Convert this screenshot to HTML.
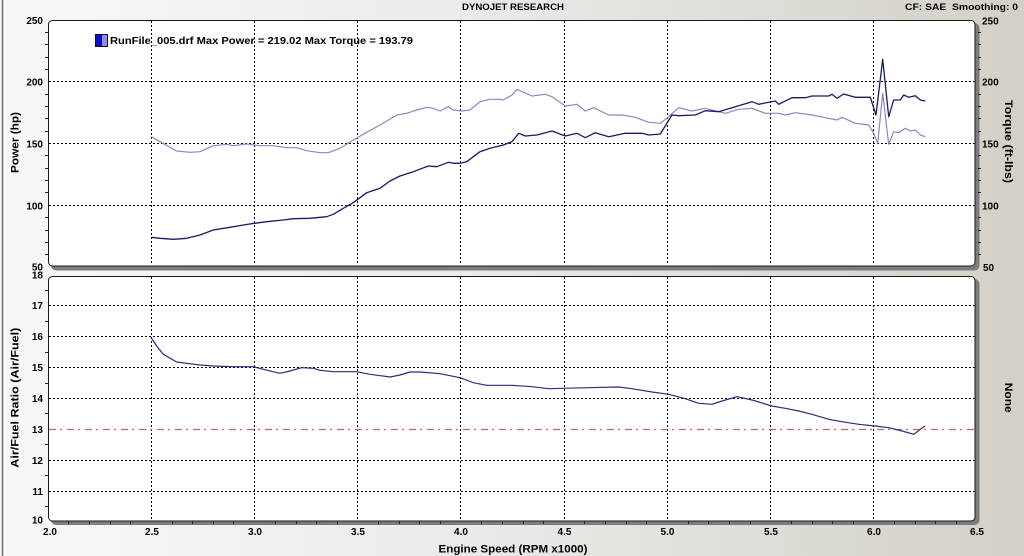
<!DOCTYPE html>
<html><head><meta charset="utf-8"><style>
html,body{margin:0;padding:0;width:1024px;height:556px;overflow:hidden}
svg{display:block}
text{font-family:"Liberation Sans",Arial,sans-serif;font-weight:bold;fill:#000}
</style></head><body>
<svg width="1024" height="556" viewBox="0 0 1024 556" xmlns="http://www.w3.org/2000/svg">
<defs>
<linearGradient id="bg" x1="0" y1="0" x2="1" y2="0">
<stop offset="0" stop-color="#f8f8f7"/>
<stop offset="0.45" stop-color="#ecebe8"/>
<stop offset="1" stop-color="#d4d0c8"/>
</linearGradient>
</defs>
<rect x="0" y="0" width="1024" height="556" fill="url(#bg)"/>
<line x1="2.5" y1="0" x2="2.5" y2="556" stroke="#6a6a6a" stroke-width="1.5"/>

<!-- header -->
<text x="462" y="10" font-size="9.5" textLength="102" lengthAdjust="spacingAndGlyphs">DYNOJET RESEARCH</text>
<text x="905" y="10" font-size="9.5" textLength="113" lengthAdjust="spacingAndGlyphs">CF: SAE&#160;&#160;Smoothing: 0</text>

<!-- top panel frame -->
<rect x="51" y="23" width="928.5" height="247.5" rx="5" fill="#7c7c7c"/>
<rect x="48.5" y="20.5" width="926.5" height="245.5" rx="4" fill="#fff" stroke="#1a1a1a" stroke-width="1"/>
<!-- bottom panel frame -->
<rect x="51" y="279" width="928.5" height="246" rx="5" fill="#7c7c7c"/>
<rect x="48.5" y="276.5" width="926.5" height="244.5" rx="4" fill="#fff" stroke="#1a1a1a" stroke-width="1"/>

<!-- grid -->
<g stroke="#000" stroke-width="1" stroke-dasharray="2 2" fill="none" shape-rendering="crispEdges">
<line x1="49" y1="81.5" x2="975" y2="81.5"/>
<line x1="49" y1="143.5" x2="975" y2="143.5"/>
<line x1="49" y1="205.5" x2="975" y2="205.5"/>
<line x1="151.5" y1="21" x2="151.5" y2="265"/>
<line x1="254.5" y1="21" x2="254.5" y2="265"/>
<line x1="357.5" y1="21" x2="357.5" y2="265"/>
<line x1="460.5" y1="21" x2="460.5" y2="265"/>
<line x1="564.5" y1="21" x2="564.5" y2="265"/>
<line x1="667.5" y1="21" x2="667.5" y2="265"/>
<line x1="770.5" y1="21" x2="770.5" y2="265"/>
<line x1="873.5" y1="21" x2="873.5" y2="265"/>
<line x1="49" y1="305.5" x2="975" y2="305.5"/>
<line x1="49" y1="336.5" x2="975" y2="336.5"/>
<line x1="49" y1="367.5" x2="975" y2="367.5"/>
<line x1="49" y1="398.5" x2="975" y2="398.5"/>
<line x1="49" y1="460.5" x2="975" y2="460.5"/>
<line x1="49" y1="491.5" x2="975" y2="491.5"/>
<line x1="151.5" y1="277" x2="151.5" y2="520"/>
<line x1="254.5" y1="277" x2="254.5" y2="520"/>
<line x1="357.5" y1="277" x2="357.5" y2="520"/>
<line x1="460.5" y1="277" x2="460.5" y2="520"/>
<line x1="564.5" y1="277" x2="564.5" y2="520"/>
<line x1="667.5" y1="277" x2="667.5" y2="520"/>
<line x1="770.5" y1="277" x2="770.5" y2="520"/>
<line x1="873.5" y1="277" x2="873.5" y2="520"/>
</g>
<line x1="49" y1="429.5" x2="975" y2="429.5" stroke="#c06868" stroke-width="1.3" stroke-dasharray="7 4 2 5"/>

<!-- ticks -->
<g stroke="#222" stroke-width="1" shape-rendering="crispEdges">
<path d="M45 32.5H48 M45 44.5H48 M45 57.5H48 M45 69.5H48 M45 94.5H48 M45 106.5H48 M45 118.5H48 M45 131.5H48 M45 155.5H48 M45 168.5H48 M45 180.5H48 M45 192.5H48 M45 217.5H48 M45 230.5H48 M45 242.5H48 M45 254.5H48"/>
<path d="M978 32.5H981 M978 44.5H981 M978 57.5H981 M978 69.5H981 M978 94.5H981 M978 106.5H981 M978 118.5H981 M978 131.5H981 M978 155.5H981 M978 168.5H981 M978 180.5H981 M978 192.5H981 M978 217.5H981 M978 230.5H981 M978 242.5H981 M978 254.5H981"/>
<path d="M45 290.5H48 M45 321.5H48 M45 352.5H48 M45 383.5H48 M45 413.5H48 M45 444.5H48 M45 475.5H48 M45 506.5H48"/>
<path d="M68.5 521V524 M89.5 521V524 M110.5 521V524 M130.5 521V524 M172.5 521V524 M192.5 521V524 M213.5 521V524 M233.5 521V524 M275.5 521V524 M296.5 521V524 M316.5 521V524 M337.5 521V524 M378.5 521V524 M399.5 521V524 M419.5 521V524 M440.5 521V524 M481.5 521V524 M502.5 521V524 M523.5 521V524 M543.5 521V524 M584.5 521V524 M605.5 521V524 M626.5 521V524 M646.5 521V524 M688.5 521V524 M708.5 521V524 M729.5 521V524 M750.5 521V524 M791.5 521V524 M812.5 521V524 M832.5 521V524 M853.5 521V524 M894.5 521V524 M915.5 521V524 M935.5 521V524 M956.5 521V524"/>
</g>

<!-- series -->
<polyline fill="none" stroke="#8a88c2" stroke-width="1.2" stroke-linejoin="round" points="151.3,136.7 160,141.7 176.7,151 190,152.3 200,151.7 213.3,145.7 226.7,144.3 233.3,145.7 246.7,144 260,145.7 273.3,145.7 286.7,147.7 296.7,147.7 306.7,150.7 320,152.7 328.3,152.7 340,148.3 353.3,140 366.7,132.3 380,125 396.7,115 406.7,113.3 416.7,110 426.7,107.3 433.3,108.3 440,111 448.3,106.7 453.3,110 461.7,111 470,110 480,101.7 490,99.3 500,99.3 503.3,100 512,95 517,89.3 532,96 545.3,94.3 552,96.7 565.3,106 577,104.3 585.3,111 593.7,107.7 608.7,115 622,115 635.3,117.3 648.7,122.3 660.3,123.3 668.7,116.7 678.7,107.7 692,111 705.3,108.3 725.3,113.3 738.7,109.3 752,108.3 765.3,113.3 778.7,113.3 785.3,115 795.3,112.7 812,115 828.7,118.3 837,120 842,117.3 855.3,123.3 868.7,125 873.7,133.3 877.7,143.3 882.7,93.3 888.7,144.3 893.7,131.7 898.7,132.7 905.3,128.3 910.3,131 915.3,130 920.3,135 925.3,136.7"/>
<polyline fill="none" stroke="#1c1a66" stroke-width="1.3" stroke-linejoin="round" points="151.3,237.3 160,238.3 173.3,239.3 186.7,238.3 200,235 213.3,230 230,227.3 243.3,225 254.3,223.3 266.7,221.7 283.3,220 293.3,218.7 310,218.3 326.7,216.7 333.3,214.3 343.3,208.3 353.3,202.7 366.7,192.7 380,188.3 390,181 400,176 413.3,171.7 428.3,166 436.7,166.7 448.3,162.3 453.3,163.3 460,163.3 466.7,161.7 480,151.7 490,148.3 503.3,145 512,141.7 518.7,133.3 525.3,136 537,135 552,131 565.3,136 577,133.3 585.3,137.7 595.3,132.7 608.7,136.7 625.3,133.3 642,133.3 648.7,135 660.3,134 672,115 678.7,115.7 695.3,115 705.3,110.7 718.7,111.7 735.3,106.7 752,101.7 758.7,104.3 775.3,101 778.7,104.3 792,97.7 805.3,97.7 812,96 828.7,96 832,94.3 837,98.3 843.7,94 855.3,97.3 870.3,97.3 876,115 882.7,59.3 888.7,116.7 893.7,100 900.3,100 903.7,95 908.7,97.3 915.3,95.7 920.3,100 925.3,101"/>
<polyline fill="none" stroke="#2e2c7c" stroke-width="1.2" stroke-linejoin="round" points="150.7,337 156.7,346 163.3,354.3 176.7,362 186.7,363.3 200,365 213.3,366 233.3,366.7 253.3,366.7 263.3,369.3 280,373.3 290,371 301.7,367.7 313.3,368.3 320,370.3 333.3,371.7 356.7,371.7 370,374.3 390,377 400,375 410,372 420,372 440,373.7 460,377.7 473.3,382.7 486.7,385.3 512,385.3 532,386.7 548.7,388.7 562,388.3 588.7,387.7 618.7,387 632,388.7 652,392 668.7,394.3 685.3,398.7 698.7,403.3 712,404.3 722,401 737,396.7 752,400 772,406 785.3,408.3 798.7,411 812,414.3 828.7,419.3 842,421.7 858.7,424.3 875.3,426 888.7,427.7 902,431 913.7,434.3 920.3,429.3 925.3,426"/>

<!-- legend -->
<rect x="95.5" y="34.5" width="12" height="12" fill="#8c8cf0" stroke="#111" stroke-width="1"/>
<rect x="96" y="35" width="6" height="11" fill="#0c0cd0"/>
<text x="110" y="44" font-size="10" textLength="303" lengthAdjust="spacingAndGlyphs">RunFile_005.drf Max Power = 219.02 Max Torque = 193.79</text>

<!-- left y labels -->
<g font-size="10" text-anchor="end">
<text x="43" y="24">250</text>
<text x="43" y="85.5">200</text>
<text x="43" y="147.5">150</text>
<text x="43" y="209.5">100</text>
<text x="43" y="270.5">50</text>
<text x="43" y="278.5">18</text>
<text x="43" y="309">17</text>
<text x="43" y="340">16</text>
<text x="43" y="371">15</text>
<text x="43" y="402">14</text>
<text x="43" y="433">13</text>
<text x="43" y="464">12</text>
<text x="43" y="495">11</text>
<text x="43" y="523.5">10</text>
</g>
<!-- right y labels -->
<g font-size="10">
<text x="982" y="24.5">250</text>
<text x="982" y="85.5">200</text>
<text x="982" y="147.5">150</text>
<text x="982" y="209.5">100</text>
<text x="983" y="271">50</text>
</g>
<!-- x labels -->
<g font-size="10" text-anchor="middle">
<text x="50" y="535">2.0</text>
<text x="152" y="535">2.5</text>
<text x="255" y="535">3.0</text>
<text x="358" y="535">3.5</text>
<text x="461" y="535">4.0</text>
<text x="564.5" y="535">4.5</text>
<text x="667.5" y="535">5.0</text>
<text x="771" y="535">5.5</text>
<text x="874" y="535">6.0</text>
<text x="977" y="535">6.5</text>
</g>
<text x="438.5" y="552.5" font-size="11" textLength="149" lengthAdjust="spacingAndGlyphs">Engine Speed (RPM x1000)</text>

<!-- axis titles -->
<text transform="translate(18.5,142.5) rotate(-90)" font-size="11" text-anchor="middle" textLength="61" lengthAdjust="spacingAndGlyphs">Power (hp)</text>
<text transform="translate(18.5,397.7) rotate(-90)" font-size="11" text-anchor="middle" textLength="140" lengthAdjust="spacingAndGlyphs">Air/Fuel Ratio (Air/Fuel)</text>
<text transform="translate(1005,141.5) rotate(90)" font-size="11" text-anchor="middle" textLength="83" lengthAdjust="spacingAndGlyphs">Torque (ft-lbs)</text>
<text transform="translate(1005,397.7) rotate(90)" font-size="11" text-anchor="middle" textLength="30" lengthAdjust="spacingAndGlyphs">None</text>
</svg>
</body></html>
